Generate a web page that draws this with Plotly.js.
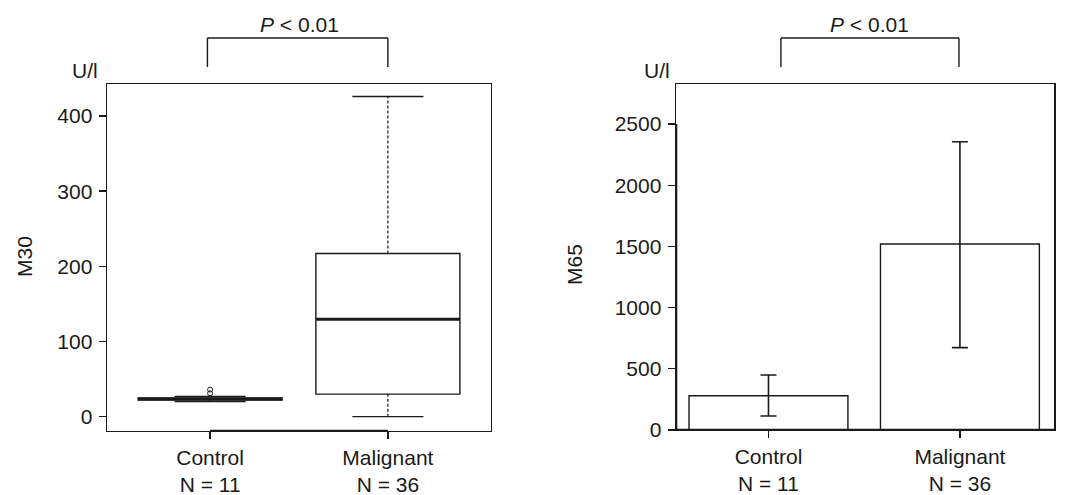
<!DOCTYPE html>
<html>
<head>
<meta charset="utf-8">
<script src="https://cdn.plot.ly/plotly-3.0.1.min.js"></script>
<style>html,body{margin:0;padding:0;background:#fff;}#chart{width:1074px;height:495px;}</style>
</head>
<body>
<div id="chart"></div>
<script>
// ---- data ----
const categories = ['Control', 'Malignant'];
const groupSizes = ['N = 11', 'N = 36'];
const positions = [0, 1];
// M30 box-plot statistics (U/l)
const m30Q1 = [22, 30];
const m30Median = [23.5, 129.5];
const m30Q3 = [25, 217];
const m30Lower = [20, 0];
const m30Upper = [27, 426];
const m30OutlierGroup = [0, 0];
const m30Outliers = [31, 36];
// M65 mean and error bounds (U/l)
const m65Mean = [280, 1520];
const m65ErrUpper = [449, 2355];
const m65ErrLower = [114, 673];
const m30Ticks = [0, 100, 200, 300, 400];
const m65Ticks = [0, 500, 1000, 1500, 2000, 2500];
const pLabel = '<i>P</i> < 0.01';
const unitLabel = 'U/l';

// ---- style ----
const ink = '#1a1a1a';
const font = {family: 'Liberation Sans, Arial, sans-serif', size: 21, color: ink};
const boxW = 0.81, capHalf = 0.2;
const tickText = categories.map((c, i) => c + '<br>' + groupSizes[i]);

function seg(xs, ys) { return {x: xs, y: ys}; }
function joinSegs(list) {
  const x = [], y = [];
  list.forEach(s => { x.push(...s.x, null); y.push(...s.y, null); });
  return {x, y};
}

const whiskers = joinSegs(positions.flatMap((p, i) => [
  seg([p, p], [m30Q3[i], m30Upper[i]]),
  seg([p, p], [m30Lower[i], m30Q1[i]])
]));
const caps = joinSegs(positions.flatMap((p, i) => [
  seg([p - capHalf, p + capHalf], [m30Upper[i], m30Upper[i]]),
  seg([p - capHalf, p + capHalf], [m30Lower[i], m30Lower[i]])
]));
const medians = joinSegs(positions.map((p, i) =>
  seg([p - boxW / 2, p + boxW / 2], [m30Median[i], m30Median[i]])));

const traces = [
  {type: 'box', x: positions, q1: m30Q1, median: m30Median, q3: m30Q3,
   lowerfence: m30Q1, upperfence: m30Q3, width: boxW, whiskerwidth: 0,
   fillcolor: 'rgba(255,255,255,0)', line: {color: ink, width: 1.4},
   boxpoints: false, hoverinfo: 'skip', xaxis: 'x', yaxis: 'y'},
  {type: 'scatter', mode: 'lines', x: whiskers.x, y: whiskers.y, connectgaps: false,
   line: {color: ink, width: 1.2, dash: '3px,2px'}, xaxis: 'x', yaxis: 'y', hoverinfo: 'skip'},
  {type: 'scatter', mode: 'lines', x: caps.x, y: caps.y, connectgaps: false,
   line: {color: ink, width: 1.4}, xaxis: 'x', yaxis: 'y', hoverinfo: 'skip'},
  {type: 'scatter', mode: 'lines', x: medians.x, y: medians.y, connectgaps: false,
   line: {color: ink, width: 3}, xaxis: 'x', yaxis: 'y', hoverinfo: 'skip'},
  {type: 'scatter', mode: 'markers', x: m30OutlierGroup, y: m30Outliers,
   marker: {symbol: 'circle-open', size: 5, color: ink, line: {width: 1, color: ink}},
   xaxis: 'x', yaxis: 'y', hoverinfo: 'skip'},
  {type: 'bar', x: positions, y: m65Mean, width: 0.83,
   marker: {color: 'rgba(255,255,255,0)', line: {color: ink, width: 1.4}},
   error_y: {type: 'data', symmetric: false,
             array: m65Mean.map((m, i) => m65ErrUpper[i] - m),
             arrayminus: m65Mean.map((m, i) => m - m65ErrLower[i]),
             color: ink, thickness: 1.6, width: 8},
   xaxis: 'x2', yaxis: 'y2', hoverinfo: 'skip'}
];

const axisCommon = {showline: true, mirror: true, linecolor: ink, linewidth: 1.4,
  showgrid: false, zeroline: false, ticks: 'outside', ticklen: 7, tickwidth: 1.4,
  tickcolor: ink, tickfont: font, fixedrange: true};

const m30Range = [-19.1, 442.6];
const m65Range = [0, 2827];
const xRange1 = [-0.58, 1.58];
const xRange2 = [-0.483, 1.493];

const bracketTop = 0.9232, bracketBot = 0.8646;
function bracket(xref, x0, x1) {
  const l = {color: ink, width: 1.4};
  return [
    {type: 'line', xref, yref: 'paper', x0, x1, y0: bracketTop, y1: bracketTop, line: l},
    {type: 'line', xref, yref: 'paper', x0, x1: x0, y0: bracketTop, y1: bracketBot, line: l},
    {type: 'line', xref, yref: 'paper', x0: x1, x1, y0: bracketTop, y1: bracketBot, line: l}
  ];
}

function note(text, xref, x, y, extra) {
  return Object.assign({text, xref, yref: 'paper', x, y, showarrow: false, font: font,
    xanchor: 'center', yanchor: 'middle'}, extra || {});
}

const layout = {
  width: 1074, height: 495,
  margin: {l: 0, r: 0, t: 0, b: 0},
  paper_bgcolor: '#fff', plot_bgcolor: '#fff',
  showlegend: false, font: font,
  xaxis: Object.assign({}, axisCommon, {domain: [107/1074, 491/1074], range: xRange1,
    tickmode: 'array', tickvals: positions, ticktext: tickText, anchor: 'y'}),
  yaxis: Object.assign({}, axisCommon, {domain: [64/495, 411/495], range: m30Range,
    tickmode: 'array', tickvals: m30Ticks, anchor: 'x', ticklabelstandoff: 2}),
  xaxis2: Object.assign({}, axisCommon, {domain: [676/1074, 1054.3/1074], range: xRange2,
    tickmode: 'array', tickvals: positions, ticktext: tickText, anchor: 'y2'}),
  yaxis2: Object.assign({}, axisCommon, {domain: [65/495, 411/495], range: m65Range,
    tickmode: 'array', tickvals: m65Ticks, anchor: 'x2', ticklabelstandoff: 2}),
  shapes: [
    ...bracket('x', -0.015, 1.0),
    ...bracket('x2', 0.065, 0.995),
    {type: 'line', xref: 'x', yref: 'y', x0: positions[0], x1: positions[1],
     y0: m30Range[0], y1: m30Range[0], line: {color: ink, width: 2.6}},
    {type: 'line', xref: 'x2', yref: 'y2', x0: xRange2[0], x1: xRange2[1],
     y0: m65Range[0], y1: m65Range[0], line: {color: ink, width: 2.6}},
    {type: 'line', xref: 'x2', yref: 'y2', x0: xRange2[0], x1: xRange2[0],
     y0: m65Ticks[0], y1: m65Ticks[m65Ticks.length - 1], line: {color: ink, width: 2.6}}
  ],
  annotations: [
    note(pLabel, 'x', 0.5, 0.95),
    note(pLabel, 'x2', 0.53, 0.95),
    note(unitLabel, 'paper', 84.5/1074, 0.8566),
    note(unitLabel, 'paper', 656.5/1074, 0.8566),
    note('M30', 'paper', 24/1074, 0.4808, {textangle: -90}),
    note('M65', 'paper', 574/1074, 0.4646, {textangle: -90})
  ]
};

Plotly.newPlot('chart', traces, layout, {staticPlot: true, displayModeBar: false});
</script>
</body>
</html>
